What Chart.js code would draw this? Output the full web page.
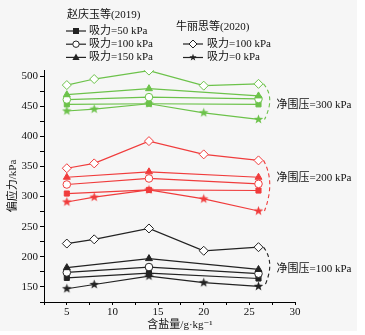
<!DOCTYPE html>
<html>
<head>
<meta charset="utf-8">
<script src="https://cdn.jsdelivr.net/npm/chart.js@4/dist/chart.umd.min.js"></script>
<style>
  html, body { margin: 0; padding: 0; background: #fff; }
  #wrap { position: relative; width: 365px; height: 335px; }
  #bg { position: absolute; left: 0; top: 0; width: 357px; height: 331px; background: #f6f6f6; }
  canvas { position: absolute; left: 0; top: 0; }
</style>
</head>
<body>
<div id="wrap">
  <div id="bg"></div>
  <canvas id="myChart1" width="365" height="335"></canvas>
</div>
<script>
//------------------ データ ------------------//
// 含盐量 (g/kg)
const zhaoX = [5, 14, 26]            // 赵庆玉等(2019)
const niuX = [5, 8, 14, 20, 26]      // 牛丽思等(2020)

// 净围压=300 kPa
const niu100_p300 = [485, 495, 509, 484, 487]
const zhao150_p300 = [469, 479, 467]
const zhao100_p300 = [461, 465, 462]
const zhao50_p300 = [453, 454, 453]
const niu0_p300 = [442, 445, 454, 439, 428]

// 净围压=200 kPa
const niu100_p200 = [347, 355, 392, 370, 360]
const zhao150_p200 = [332, 341, 332]
const zhao100_p200 = [320, 330, 321]
const zhao50_p200 = [305, 311, 310]
const niu0_p200 = [291, 299, 311, 296, 276]

// 净围压=100 kPa
const niu100_p100 = [222, 229, 247, 210, 216]
const zhao150_p100 = [182, 197, 179]
const zhao100_p100 = [174, 183, 172]
const zhao50_p100 = [165, 173, 164]
const niu0_p100 = [147, 154, 168, 157, 151]

const yTickLabels = [150, 200, 250, 300, 350, 400, 450, 500]
const xTickLabels = [5, 10, 15, 20, 25, 30]
const pressureLabels = ['净围压=300 kPa', '净围压=200 kPa', '净围压=100 kPa']
//-------------------------------------------//

const GREEN = '#6cc24a'
const RED = '#f03c3c'
const BLACK = '#222222'
const FONT = '"Liberation Serif", "DejaVu Serif", "Noto Sans CJK SC", serif'

// ★ マーカー画像を作る
function starImage(color){
    const c = document.createElement('canvas')
    c.width = 11; c.height = 11
    const g = c.getContext('2d')
    drawStar(g, 5.5, 5.5, 5, color)
    return c
}
function drawStar(g, cx, cy, r, color){
    g.beginPath()
    for (let i = 0; i < 10; i++){
        const rr = (i % 2 == 0) ? r : r * 0.42
        const a = -Math.PI / 2 + i * Math.PI / 5
        g.lineTo(cx + rr * Math.cos(a), cy + rr * Math.sin(a))
    }
    g.closePath()
    g.fillStyle = color
    g.fill()
}

function toXY(xs, ys){
    return ys.map((v, i) => ({x: xs[i], y: v}))
}

function series(xs, ys, color, style){
    const ds = {
        data: toXY(xs, ys),
        borderColor: color,
        borderWidth: 1.2,
        tension: 0,
        pointBorderColor: color,
        pointBorderWidth: 1,
        pointRadius: 4,
        pointBackgroundColor: color,
        pointStyle: style
    }
    if (style == 'circle' || style == 'rectRot'){
        ds.pointBackgroundColor = '#ffffff'
        ds.pointRadius = style == 'rectRot' ? 4.5 : 3.8
    }
    if (style == 'rect') ds.pointRadius = 3.6
    if (style == 'star') ds.pointStyle = starImage(color)
    return ds
}

const groups = [
    [GREEN, niu100_p300, zhao150_p300, zhao100_p300, zhao50_p300, niu0_p300],
    [RED, niu100_p200, zhao150_p200, zhao100_p200, zhao50_p200, niu0_p200],
    [BLACK, niu100_p100, zhao150_p100, zhao100_p100, zhao50_p100, niu0_p100]
]
const datasets = []
groups.forEach(g => {
    datasets.push(series(niuX, g[1], g[0], 'rectRot'))
    datasets.push(series(zhaoX, g[2], g[0], 'triangle'))
    datasets.push(series(zhaoX, g[3], g[0], 'circle'))
    datasets.push(series(zhaoX, g[4], g[0], 'rect'))
    datasets.push(series(niuX, g[5], g[0], 'star'))
})

/*--------------------------------------------------------------------
凡例マーカーを描く関数
--------------------------------------------------------------------*/
function legendMarker(ctx, style, x, y){
    ctx.save()
    ctx.strokeStyle = BLACK
    ctx.fillStyle = BLACK
    ctx.lineWidth = 1.2
    ctx.beginPath()
    ctx.moveTo(x - 10, y); ctx.lineTo(x + 10, y)
    ctx.stroke()
    ctx.lineWidth = 1
    ctx.beginPath()
    if (style == 'rect'){
        ctx.fillRect(x - 3, y - 3, 6, 6)
    } else if (style == 'circle'){
        ctx.fillStyle = '#fff'
        ctx.arc(x, y, 3.2, 0, Math.PI * 2)
        ctx.fill(); ctx.stroke()
    } else if (style == 'triangle'){
        ctx.moveTo(x, y - 4); ctx.lineTo(x + 3.6, y + 2.5); ctx.lineTo(x - 3.6, y + 2.5)
        ctx.closePath(); ctx.fill()
    } else if (style == 'rectRot'){
        ctx.fillStyle = '#fff'
        ctx.moveTo(x, y - 4); ctx.lineTo(x + 4, y); ctx.lineTo(x, y + 4); ctx.lineTo(x - 4, y)
        ctx.closePath(); ctx.fill(); ctx.stroke()
    } else if (style == 'star'){
        drawStar(ctx, x, y, 3.8, BLACK)
    }
    ctx.restore()
}

const decoPlugin = {
    id: 'deco',
    afterDraw(chart){
        const ctx = chart.ctx
        const xs = chart.scales.x, ys = chart.scales.y
        const area = chart.chartArea
        ctx.save()
        ctx.fillStyle = '#111'
        ctx.font = '11px ' + FONT
        ctx.textBaseline = 'middle'
        ctx.textAlign = 'left'

        // 凡例
        ctx.fillText('赵庆玉等(2019)', 67, 15)
        ctx.fillText('牛丽思等(2020)', 176, 27)
        const rowsL = [['rect', '吸力=50 kPa'], ['circle', '吸力=100 kPa'], ['triangle', '吸力=150 kPa']]
        rowsL.forEach((r, i) => {
            const y = 31 + i * 13.2
            legendMarker(ctx, r[0], 76, y)
            ctx.fillStyle = '#111'
            ctx.fillText(r[1], 89, y)
        })
        const rowsR = [['rectRot', '吸力=100 kPa'], ['star', '吸力=0 kPa']]
        rowsR.forEach((r, i) => {
            const y = 44 + i * 13.5
            legendMarker(ctx, r[0], 193, y)
            ctx.fillStyle = '#111'
            ctx.fillText(r[1], 207, y)
        })

        // 破線の括弧と净围压ラベル
        const lastX = xs.getPixelForValue(niuX[niuX.length - 1])
        const labelAt = [451, 330, 180]
        groups.forEach((g, i) => {
            const top = ys.getPixelForValue(g[1][g[1].length - 1])
            const bot = ys.getPixelForValue(g[5][g[5].length - 1])
            const mid = (top + bot) / 2
            ctx.save()
            ctx.strokeStyle = g[0]
            ctx.lineWidth = 1.1
            ctx.setLineDash([4, 3])
            ctx.beginPath()
            ctx.moveTo(lastX + 5, top)
            ctx.quadraticCurveTo(lastX + 17, mid - 4, lastX + 6, bot)
            ctx.stroke()
            ctx.restore()
            ctx.fillStyle = '#111'
            ctx.fillText(pressureLabels[i], lastX + 18, ys.getPixelForValue(labelAt[i]))
        })

        // 軸タイトル
        ctx.textAlign = 'center'
        ctx.fillText('含盐量/g·kg⁻¹', 180, 325)
        ctx.translate(13, (area.top + area.bottom) / 2)
        ctx.rotate(-Math.PI / 2)
        ctx.fillText('偏应力/kPa', 0, 0)
        ctx.restore()
    }
}

const ctx = document.getElementById('myChart1')
window.myChart = new Chart(ctx, {
    type: 'line',
    data: { datasets: datasets },
    plugins: [decoPlugin],
    options: {
        responsive: false,
        animation: false,
        layout: { padding: { top: 70, right: 70, left: 0, bottom: 0 } },
        plugins: { legend: { display: false }, tooltip: { enabled: false } },
        scales: {
            x: {
                type: 'linear',
                min: 2.5,
                max: 30,
                afterFit(s){ s.height = 33 },
                grid: { drawOnChartArea: false, drawTicks: true, tickLength: 3, color: '#000' },
                border: { color: '#000', width: 1 },
                ticks: {
                    stepSize: 2.5,
                    includeBounds: false,
                    autoSkip: false,
                    maxRotation: 0,
                    padding: 1,
                    color: '#111',
                    font: { family: FONT, size: 11 },
                    callback: v => xTickLabels.includes(v) ? String(v) : ''
                }
            },
            y: {
                type: 'linear',
                min: 125,
                max: 510,
                afterFit(s){ s.width = 44 },
                grid: { drawOnChartArea: false, drawTicks: true, tickLength: 4, color: '#000' },
                border: { color: '#000', width: 1 },
                ticks: {
                    stepSize: 25,
                    includeBounds: false,
                    autoSkip: false,
                    padding: 2,
                    color: '#111',
                    font: { family: FONT, size: 11 },
                    callback: v => yTickLabels.includes(v) ? String(v) : ''
                }
            }
        }
    }
})
</script>
</body>
</html>
